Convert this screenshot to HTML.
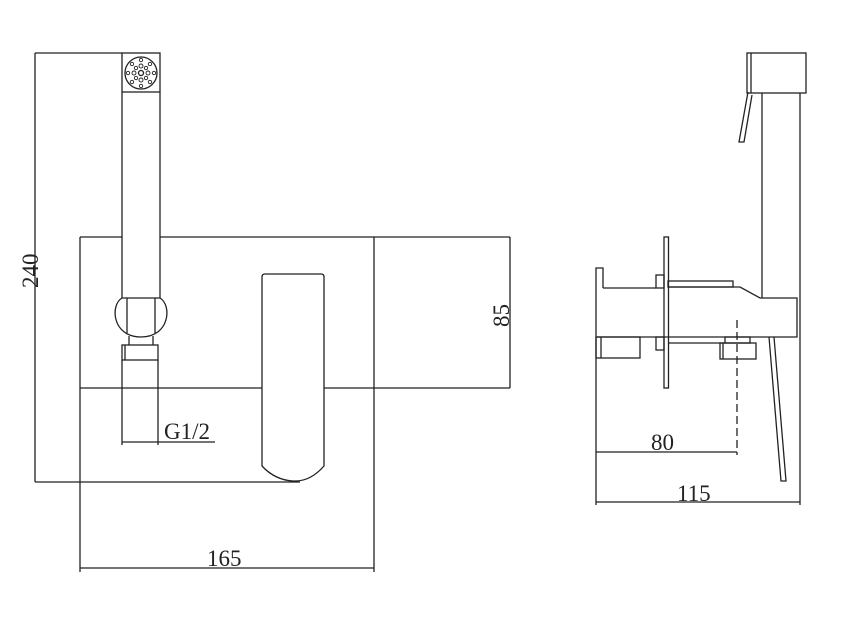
<!DOCTYPE html>
<html><head><meta charset="utf-8"><style>html,body{margin:0;padding:0;background:#fff}svg{display:block}text{font-family:"Liberation Serif",serif;fill:#222}</style></head>
<body>
<svg width="858" height="619" viewBox="0 0 858 619" xmlns="http://www.w3.org/2000/svg">
<g fill="none" stroke="#222" stroke-width="1.3">
<line x1="35" y1="53" x2="35" y2="482"/>
<line x1="35" y1="53" x2="122" y2="53"/>
<line x1="35" y1="482" x2="300" y2="482"/>
<rect x="122" y="53" width="38" height="39"/>
<line x1="122" y1="92" x2="122" y2="298"/>
<line x1="160" y1="92" x2="160" y2="298"/>
<circle cx="141" cy="73" r="16"/>
<circle cx="141" cy="73" r="2.5"/>
<g stroke-width="0.9">
<circle cx="141" cy="66" r="2"/><circle cx="141" cy="80" r="2"/><circle cx="134" cy="73" r="2"/><circle cx="148" cy="73" r="2"/>
<circle cx="136" cy="68" r="1.7"/><circle cx="146" cy="68" r="1.7"/><circle cx="136" cy="78" r="1.7"/><circle cx="146" cy="78" r="1.7"/>
<circle cx="141" cy="60" r="1.7"/><circle cx="141" cy="86" r="1.7"/><circle cx="128" cy="73" r="1.7"/><circle cx="154" cy="73" r="1.7"/>
<circle cx="132" cy="64" r="1.7"/><circle cx="150" cy="64" r="1.7"/><circle cx="132" cy="82" r="1.7"/><circle cx="150" cy="82" r="1.7"/>
</g>
<path d="M122 298 L160 298 C172 305,170 337,141 337 C112 337,110 305,122 298 Z"/>
<line x1="127" y1="298" x2="127" y2="333"/>
<line x1="155" y1="298" x2="155" y2="333"/>
<line x1="129" y1="336" x2="129" y2="345"/>
<line x1="153" y1="336" x2="153" y2="345"/>
<rect x="122" y="345" width="36" height="15"/>
<line x1="125" y1="345" x2="125" y2="360"/>
<line x1="122" y1="360" x2="122" y2="445"/>
<line x1="158" y1="360" x2="158" y2="445"/>
<line x1="122" y1="442" x2="215" y2="442"/>
<line x1="80" y1="237" x2="80" y2="572"/>
<line x1="374" y1="237" x2="374" y2="572"/>
<line x1="80" y1="237" x2="122" y2="237"/>
<line x1="160" y1="237" x2="510" y2="237"/>
<line x1="80" y1="388" x2="510" y2="388"/>
<line x1="510" y1="237" x2="510" y2="388"/>
<line x1="80" y1="568" x2="374" y2="568"/>
<path d="M262 466 L262 277 Q262 274 265 274 L321 274 Q324 274 324 277 L324 466 Q310 482 293 481 Q275 480 262 466 Z" fill="#fff"/>
<rect x="747" y="53" width="59" height="40"/>
<line x1="751" y1="53" x2="751" y2="93"/>
<path d="M748 92 L739 142 L744 142 L752 95"/>
<line x1="762" y1="93" x2="762" y2="298"/>
<line x1="800" y1="93" x2="800" y2="505"/>
<path d="M603 288 L603 268 L596 268 L596 337"/>
<path d="M603 288 L656 288"/>
<path d="M668 287 L740 287 L760 298 L797 298 L797 337 L597 337"/>
<rect x="668" y="281" width="65" height="6"/>
<rect x="656" y="275" width="8" height="13"/>
<rect x="656" y="337" width="8" height="13"/>
<rect x="664" y="237" width="4.5" height="151"/>
<rect x="596" y="337" width="44" height="21"/>
<line x1="601" y1="337" x2="601" y2="358"/>
<line x1="668" y1="343" x2="725" y2="343"/>
<rect x="725" y="337" width="25" height="6"/>
<rect x="720" y="343" width="36" height="16"/>
<line x1="723" y1="343" x2="723" y2="359"/>
<line x1="737" y1="320" x2="737" y2="455" stroke-dasharray="8,4"/>
<path d="M769 337 L781 481 L786 481 L774 337"/>
<line x1="596" y1="337" x2="596" y2="505"/>
<line x1="596" y1="452" x2="737" y2="452"/>
<line x1="596" y1="502" x2="800" y2="502"/>
</g>
<text x="164" y="439" font-size="23">G1/2</text>
<text x="207" y="566" font-size="23">165</text>
<text x="651" y="450" font-size="23">80</text>
<text x="677" y="501" font-size="23">115</text>
<text transform="translate(38,288) rotate(-90)" font-size="23">240</text>
<text transform="translate(509,327) rotate(-90)" font-size="23">85</text>
</svg>
</body></html>
